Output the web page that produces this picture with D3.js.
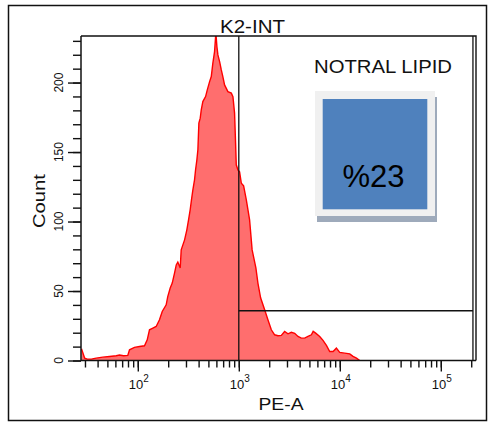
<!DOCTYPE html>
<html>
<head>
<meta charset="utf-8">
<script src="https://cdn.jsdelivr.net/npm/d3@7"></script>
<style>
  html, body { margin: 0; padding: 0; background: #fff; }
  svg text { font-family: "Liberation Sans", Arial, sans-serif; }
</style>
</head>
<body>
<svg id="chart" width="489" height="425"></svg>
<script>
// ---- data ----
const peValues = [27.7, 29.8, 31.7, 34.7, 38.7, 45.0, 52.5, 61.1, 65.9, 72.2, 79.6, 82.8, 92.7, 104, 116.5, 124, 130.6, 141, 152, 164, 174.6, 191, 198, 209.4, 219.3, 231, 240.3, 249, 263, 269, 290.5, 306, 318, 330, 340, 351, 364.5, 373, 384.6, 393.5, 402.5, 415, 425, 440.6, 469, 487.5, 514, 534, 553.6, 575.4, 593, 607, 621, 645.7, 671, 695, 723, 780, 843, 875, 908, 929, 944, 979.5, 1018, 1059, 1116, 1187, 1279, 1355, 1476, 1546, 1644, 1803, 1942, 2099, 2264, 2440, 2636, 2843, 3067, 3314, 3574, 3855, 4161, 4487, 4841, 5232, 5448, 5767, 6322, 6818, 7368, 7943, 8575, 9250, 9977, 11190, 12540, 13520, 14620, 15750];
const counts = [8.4, 1.7, 1.0, 1.0, 1.7, 2.4, 2.9, 3.4, 3.9, 3.4, 3.7, 7.7, 9.4, 10.1, 10.6, 14.9, 22.1, 23.3, 24.5, 29.3, 35.3, 40.1, 46.0, 52.1, 55.7, 62.9, 68.8, 70.8, 66.5, 79.6, 86.8, 94.0, 101.2, 108.4, 115.6, 122.8, 130, 137.1, 144.4, 151.6, 170.8, 174.4, 180.4, 186.3, 189.9, 194.7, 200.7, 204.3, 214, 222.3, 236, 225.9, 219.9, 215.1, 209.1, 204.3, 198.3, 193.5, 192.4, 189.9, 178, 156.6, 140.8, 137.2, 135.7, 127.6, 125.7, 115.6, 101.2, 79.6, 66.7, 55.7, 45.1, 36.5, 29.3, 22.1, 18.5, 17.8, 18.1, 20.9, 19.2, 20.3, 19.6, 17.3, 16.1, 16.1, 17.3, 18.5, 21.0, 19.7, 17.3, 14.5, 10.9, 6.5, 6.5, 8.9, 5.8, 5.3, 4.8, 3.0, 1.7, 0];

const xMajorTicks = [100, 1000, 10000, 100000];
const xTickExponents = ["2", "3", "4", "5"];
const yMajorTicks = [0, 50, 100, 150, 200];
const yTickLabels = ["0", "50", "100", "150", "200"];

const xDomain = [27.4, 223000];
const yDomain = [0, 233.5];

const gateStart = 1000;
const gateEnd = 208000;
const gateLevel = 35.8;

const titleText = "K2-INT";
const xLabel = "PE-A";
const yLabel = "Count";
const gateName = "NOTRAL LIPID";
const gatePercent = "%23";

// ---- layout ----
const svg = d3.select("#chart");
const L = 81, R = 476, T = 36, B = 360.5;

const x = d3.scaleLog().domain(xDomain).range([L, R]);
const y = d3.scaleLinear().domain(yDomain).range([B, T]);

// outer frame
svg.append("rect").attr("x", 8.5).attr("y", 5.5).attr("width", 478).attr("height", 415)
  .attr("fill", "none").attr("stroke", "#111").attr("stroke-width", 1.5);

// clip
svg.append("defs").append("clipPath").attr("id", "plotclip")
  .append("rect").attr("x", L).attr("y", T).attr("width", R - L).attr("height", B - T);

const data = peValues.map((v, i) => ({ v, c: counts[i] }));

const area = d3.area().x(d => x(d.v)).y0(y(0)).y1(d => y(d.c));
const line = d3.line().x(d => x(d.v)).y(d => y(d.c));

const g = svg.append("g").attr("clip-path", "url(#plotclip)");
g.append("path").datum(data).attr("d", area).attr("fill", "#ff6e6e");
g.append("path").datum(data).attr("d", line).attr("fill", "none")
  .attr("stroke", "#ff0000").attr("stroke-width", 1.4);

// gate lines
svg.append("line").attr("x1", x(gateStart)).attr("x2", x(gateStart)).attr("y1", T).attr("y2", B)
  .attr("stroke", "#111").attr("stroke-width", 1.3);
svg.append("line").attr("x1", x(gateStart)).attr("x2", x(gateEnd)).attr("y1", y(gateLevel)).attr("y2", y(gateLevel))
  .attr("stroke", "#111").attr("stroke-width", 1.3);
svg.append("line").attr("x1", x(gateEnd)).attr("x2", x(gateEnd)).attr("y1", T).attr("y2", B)
  .attr("stroke", "#111").attr("stroke-width", 1.3);

// plot frame (top & right)
svg.append("path").attr("d", `M${L},${T}H${R}V${B}`).attr("fill", "none")
  .attr("stroke", "#111").attr("stroke-width", 1.4);

// y axis
const yMinor = d3.range(0, yDomain[1], 10);
const yAxMinor = svg.append("g").attr("transform", `translate(${L},0)`)
  .call(d3.axisLeft(y).tickValues(yMinor).tickSize(8).tickFormat(""));
const yAxMajor = svg.append("g").attr("transform", `translate(${L},0)`)
  .call(d3.axisLeft(y).tickValues(yMajorTicks).tickSize(13).tickFormat(""));
[yAxMinor, yAxMajor].forEach(a => {
  a.select(".domain").remove();
  a.selectAll("line").attr("stroke", "#111").attr("stroke-width", 1.4);
});
svg.append("line").attr("x1", L).attr("x2", L).attr("y1", T).attr("y2", B + 0.5)
  .attr("stroke", "#111").attr("stroke-width", 1.5);
yMajorTicks.forEach((t, i) => {
  svg.append("text").attr("transform", `translate(63,${y(t)}) rotate(-90)`)
    .attr("text-anchor", "middle").attr("font-size", 12).attr("fill", "#111")
    .text(yTickLabels[i]);
});

// x axis
const xMinor = x.ticks().filter(t => t >= xDomain[0] && t <= xDomain[1]);
const xAxMinor = svg.append("g").attr("transform", `translate(0,${B})`)
  .call(d3.axisBottom(x).tickValues(xMinor).tickSize(7).tickFormat(""));
const xAxMajor = svg.append("g").attr("transform", `translate(0,${B})`)
  .call(d3.axisBottom(x).tickValues(xMajorTicks).tickSize(11).tickFormat(""));
[xAxMinor, xAxMajor].forEach(a => {
  a.select(".domain").remove();
  a.selectAll("line").attr("stroke", "#111").attr("stroke-width", 1.4);
});
svg.append("line").attr("x1", L).attr("x2", R).attr("y1", B).attr("y2", B)
  .attr("stroke", "#111").attr("stroke-width", 1.5);
xMajorTicks.forEach((t, i) => {
  const tx = svg.append("text").attr("x", x(t) + 1).attr("y", 388.5)
    .attr("text-anchor", "middle").attr("font-size", 13).attr("fill", "#111");
  tx.append("tspan").text("10");
  tx.append("tspan").attr("dy", -7).attr("font-size", 10).text(xTickExponents[i]);
});

// labels
svg.append("text").attr("x", 281).attr("y", 410).attr("text-anchor", "middle")
  .attr("font-size", 16).attr("textLength", 45).attr("lengthAdjust", "spacingAndGlyphs")
  .attr("fill", "#111").text(xLabel);
svg.append("text").attr("transform", "translate(45,201) rotate(-90)").attr("text-anchor", "middle")
  .attr("font-size", 17).attr("textLength", 54).attr("lengthAdjust", "spacingAndGlyphs")
  .attr("fill", "#111").text(yLabel);
svg.append("text").attr("x", 220).attr("y", 32.7)
  .attr("font-size", 17.5).attr("textLength", 65).attr("lengthAdjust", "spacingAndGlyphs")
  .attr("fill", "#111").text(titleText);
svg.append("text").attr("x", 314).attr("y", 72.7)
  .attr("font-size", 17.5).attr("textLength", 138).attr("lengthAdjust", "spacingAndGlyphs")
  .attr("fill", "#111").text(gateName);

// percentage box
svg.append("rect").attr("x", 317).attr("y", 97).attr("width", 120).attr("height", 125).attr("fill", "#9eaabb");
svg.append("rect").attr("x", 315).attr("y", 91).attr("width", 120).attr("height", 125).attr("fill", "#f0f0f0");
svg.append("rect").attr("x", 322.7).attr("y", 99).attr("width", 104.6).attr("height", 110.3).attr("fill", "#4f81bd");
svg.append("text").attr("x", 373.5).attr("y", 187).attr("text-anchor", "middle")
  .attr("font-size", 31).attr("fill", "#000").text(gatePercent);
</script>
</body>
</html>
